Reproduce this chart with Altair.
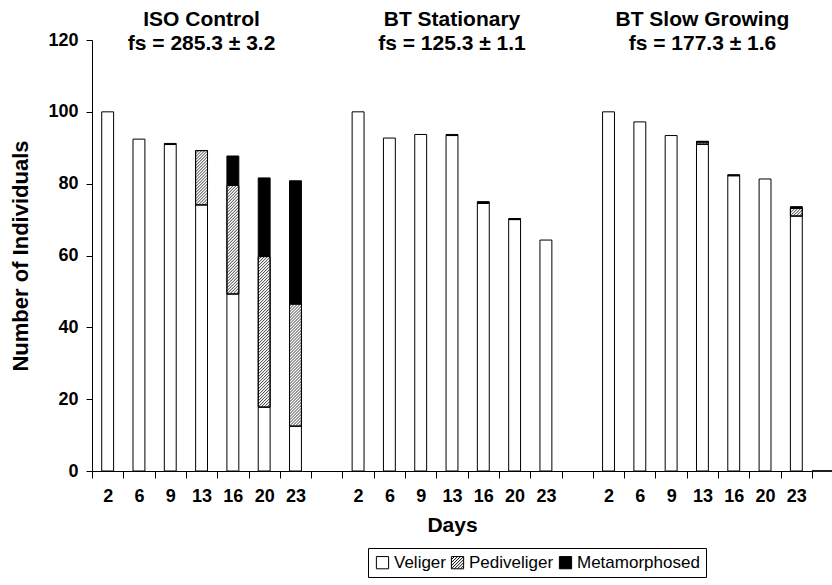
import json
import altair as alt
import pandas as pd

# ---------------- data ----------------
days = [2, 6, 9, 13, 16, 20, 23]
groups = ["ISO Control", "BT Stationary", "BT Slow Growing"]
fs_labels = ["fs = 285.3 ± 3.2", "fs = 125.3 ± 1.1", "fs = 177.3 ± 1.6"]
stages = ["Veliger", "Pediveliger", "Metamorphosed"]

iso_veliger = [100, 92.4, 90.9, 74.1, 49.3, 17.8, 12.5]
iso_pedi = [0, 0, 0, 15.1, 30.2, 41.9, 34.0]
iso_meta = [0, 0, 0.3, 0, 8.2, 21.9, 34.3]

sta_veliger = [100, 92.7, 93.7, 93.4, 74.5, 70.0, 64.3]
sta_pedi = [0, 0, 0, 0, 0, 0, 0]
sta_meta = [0, 0, 0, 0.3, 0.5, 0.3, 0]

slow_veliger = [100, 97.2, 93.4, 91.0, 82.2, 81.3, 71.0]
slow_pedi = [0, 0, 0, 0.6, 0, 0, 2.1]
slow_meta = [0, 0, 0, 0.2, 0.3, 0, 0.5]

series = [
    (iso_veliger, iso_pedi, iso_meta),
    (sta_veliger, sta_pedi, sta_meta),
    (slow_veliger, slow_pedi, slow_meta),
]

rows = []
for gi, g in enumerate(groups):
    for di, d in enumerate(days):
        slot = gi * 8 + di
        for si, st in enumerate(stages):
            rows.append(dict(group=g, day=d, slot=slot, stage=st, order=si,
                             value=series[gi][si][di]))
df = pd.DataFrame(rows)
df_titles = pd.DataFrame({"gi": list(range(len(groups))), "title": groups, "fs": fs_labels})
df_leg = pd.DataFrame({"stage": stages})

# ---------------- layout ----------------
W, H = 720, 431
N_SLOTS = 23
YMAX = 120
FONT = "Liberation Sans"
BAR_FRAC = 0.38

px_slot = W / N_SLOTS
px_unit = H / YMAX
kx = px_unit / px_slot          # slots per y-unit for a 45 deg line
rise = BAR_FRAC * px_slot / px_unit
sp = 3.0 / px_unit              # hatch spacing (vertical)
half = BAR_FRAC / 2

xscale = alt.Scale(domain=[0, N_SLOTS], nice=False, zero=False)
yscale = alt.Scale(domain=[0, YMAX], nice=False)

tick_axis = alt.Axis(values=list(range(N_SLOTS + 1)), labels=False, tickSize=7,
                     title=None, orient="bottom", domainColor="black",
                     tickColor="black", grid=False)
label_vals = [gi * 8 + di + 0.5 for gi in range(len(groups)) for di in range(len(days))]
label_expr = json.dumps([str(d) for d in days]) + "[floor(datum.value) % 8]"
label_axis = alt.Axis(values=label_vals, labelExpr=label_expr, ticks=False, tickSize=0,
                      domain=False, grid=False, orient="bottom", title="Days",
                      labelFontSize=18, labelFontWeight="bold", labelPadding=16,
                      titleFontSize=21, titleFontWeight="bold", titlePadding=9,
                      labelFont=FONT, titleFont=FONT, labelColor="black",
                      titleColor="black")
y_axis = alt.Axis(values=list(range(0, YMAX + 1, 20)), tickSize=6, labelPadding=8,
                  title="Number of Individuals", titleFontSize=22,
                  titleFontWeight="bold", labelFontSize=18, labelFontWeight="bold",
                  titlePadding=15, grid=False, domainColor="black", tickColor="black",
                  labelColor="black", titleColor="black", labelFont=FONT, titleFont=FONT)

base = alt.Chart(df).transform_filter("datum.value > 0").transform_stack(
    stack="value", groupby=["slot"], as_=["y0", "y1"],
    sort=[alt.SortField("order", order="ascending")]
).transform_calculate(
    xl=f"datum.slot + 0.5 - {half}", xr=f"datum.slot + 0.5 + {half}"
)

bars = base.mark_bar(stroke="black", strokeWidth=1).encode(
    x=alt.X("xl:Q", scale=xscale, axis=tick_axis),
    x2="xr:Q",
    y=alt.Y("y0:Q", scale=yscale, axis=y_axis),
    y2="y1:Q",
    fill=alt.condition("datum.stage == 'Metamorphosed'", alt.value("black"), alt.value("white")),
)

hatch = base.transform_filter("datum.stage == 'Pediveliger'").transform_calculate(
    ks=f"sequence(1, ceil((datum.y1 - datum.y0 + {rise}) / {sp}))"
).transform_flatten(["ks"]).transform_calculate(
    yl=f"datum.y0 - {rise} + datum.ks * {sp}"
).transform_calculate(
    yr=f"datum.yl + {rise}"
).transform_calculate(
    sx=f"datum.yl < datum.y0 ? datum.xl + (datum.y0 - datum.yl) * {kx} : datum.xl",
    sy="max(datum.yl, datum.y0)",
    ex=f"datum.yr > datum.y1 ? datum.xr - (datum.yr - datum.y1) * {kx} : datum.xr",
    ey="min(datum.yr, datum.y1)",
).transform_filter("datum.ey > datum.sy").mark_rule(color="#222", strokeWidth=0.9).encode(
    x=alt.X("sx:Q", scale=xscale, axis=label_axis),
    x2="ex:Q",
    y=alt.Y("sy:Q", scale=yscale, axis=y_axis),
    y2="ey:Q",
)

# redraw outlines of the pediveliger segments on top of the hatch
outline = base.transform_filter("datum.stage == 'Pediveliger'").mark_bar(
    fillOpacity=0, stroke="black", strokeWidth=1).encode(
    x=alt.X("xl:Q", scale=xscale, axis=None),
    x2="xr:Q",
    y=alt.Y("y0:Q", scale=yscale, axis=y_axis),
    y2="y1:Q",
)

titles = alt.Chart(df_titles).transform_calculate(cx="datum.gi * 8 + 3.5").mark_text(
    font=FONT, fontSize=21, fontWeight="bold", baseline="middle", color="black"
).encode(x=alt.X("cx:Q", scale=xscale, axis=None), y=alt.value(-20), text="title:N")

fs_text = alt.Chart(df_titles).transform_calculate(cx="datum.gi * 8 + 3.5").mark_text(
    font=FONT, fontSize=21, fontWeight="bold", baseline="middle", color="black"
).encode(x=alt.X("cx:Q", scale=xscale, axis=None), y=alt.value(4), text="fs:N")

hatch_path = "M-1,-1L1,-1L1,1L-1,1Z"
for c in [-1.5, -1.0, -0.5, 0.0, 0.5, 1.0, 1.5]:
    x1 = max(-1, c - 1); y1 = c - x1
    x2 = min(1, c + 1); y2 = c - x2
    hatch_path += f"M{x1},{y1}L{x2},{y2}"

leg = alt.Legend(orient="none", legendX=276, legendY=508, direction="horizontal",
                 title=None, labelFontSize=17, labelFont=FONT, labelColor="black",
                 symbolSize=150, symbolStrokeWidth=1, symbolStrokeColor="black",
                 symbolOpacity=1, labelOffset=3, columnPadding=3, padding=6,
                 strokeColor="black", fillColor="white")

legend_layer = alt.Chart(df_leg).transform_filter("false").mark_point(
    filled=True, opacity=1, strokeWidth=1).encode(
    fill=alt.Fill("stage:N", scale=alt.Scale(domain=stages, range=["white", "white", "black"]),
                  legend=leg, title=None),
    stroke=alt.Stroke("stage:N", scale=alt.Scale(domain=stages, range=["black", "black", "black"]),
                      legend=leg, title=None),
    shape=alt.Shape("stage:N", scale=alt.Scale(domain=stages,
                    range=["square", hatch_path, "square"]), legend=leg, title=None),
)

axis_ext = alt.Chart(df_leg).mark_rule(color="black", strokeWidth=1).encode(
    x=alt.value(W), x2=alt.value(W + 20), y=alt.value(H)
)

chart = alt.layer(bars, hatch, outline, titles, fs_text, legend_layer, axis_ext).resolve_axis(
    x="independent"
).properties(
    width=W, height=H,
    padding={"left": 92, "top": 40, "right": 20, "bottom": 114},
    autosize=alt.AutoSizeParams(type="none"),
).configure_view(stroke=None).configure_axis(labelFont=FONT, titleFont=FONT)

chart.save("out.html", embed_options={"renderer": "svg", "actions": False})
